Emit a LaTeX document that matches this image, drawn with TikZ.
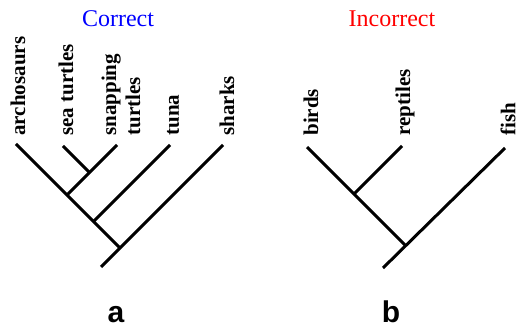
\documentclass[tikz,border=0pt]{standalone}
\usepackage{fontspec}
\setmainfont{Liberation Serif}
\newfontfamily\panelfont{Liberation Sans}
\usetikzlibrary{calc}

\tikzset{
  branch/.style={line width=1.5pt},
  taxon/.style={rotate=90, anchor=west, inner sep=0pt, align=left,
    font=\bfseries\fontsize{10.5}{12}\selectfont},
  heading/.style={anchor=base, inner sep=0pt, font=\fontsize{12}{14}\selectfont},
  panel/.style={anchor=base, inner sep=0pt, font=\panelfont\bfseries\fontsize{15}{18}\selectfont}
}

\begin{document}
\begin{tikzpicture}[x=0.5pt, y=0.5pt]
  \useasboundingbox (0,0) rectangle (520,327);
  % Left tree: correct
  \begin{scope}
    \coordinate (arch) at (16,183);
    \coordinate (sea) at (63,181);
    \coordinate (snap) at (117,182);
    \coordinate (tuna) at (170,182);
    \coordinate (shark) at (223,182);
    \coordinate (jTurt) at (89.5,154.5);
    \coordinate (jRept) at (67,132);
    \coordinate (jBony) at (93.5,105.5);
    \coordinate (jAll) at (120,79);
    \coordinate (rootA) at (101,60);
    \draw[branch] (arch) -- (jAll);
    \draw[branch] (shark) -- (rootA);
    \draw[branch] (sea) -- (jTurt);
    \draw[branch] (snap) -- (jRept);
    \draw[branch] (tuna) -- (jBony);
    \node[taxon] (lArch) at ([shift={(2,8)}]arch) {archosaurs};
    \node[taxon] (lSea) at ([shift={(3,10)}]sea) {sea turtles};
    \node[taxon] (lSnap) at ([shift={(4,9)}]snap) {snapping\\turtles};
    \node[taxon] (lTuna) at ([shift={(3,9)}]tuna) {tuna};
    \node[taxon] (lShark) at ([shift={(4,9)}]shark) {sharks};
    \node[heading, text=blue] (hCor) at (118,300) {Correct};
    \node[panel] (pa) at (116,4) {a};
  \end{scope}
  % Right tree: incorrect
  \begin{scope}
    \coordinate (bird) at (307,180);
    \coordinate (rept) at (402,181);
    \coordinate (fish) at (505,179);
    \coordinate (jLand) at (354,133);
    \coordinate (jTop) at (405,82);
    \coordinate (rootB) at (383,59);
    \draw[branch] (bird) -- (jTop);
    \draw[branch] (fish) -- (rootB);
    \draw[branch] (rept) -- (jLand);
    \node[taxon] (lBird) at ([shift={(4,11)}]bird) {birds};
    \node[taxon] (lRept) at ([shift={(3,10)}]rept) {reptiles};
    \node[taxon] (lFish) at ([shift={(3,12)}]fish) {fish};
    \node[heading, text=red] (hInc) at (392,300) {Incorrect};
    \node[panel] (pb) at (391,4) {b};
  \end{scope}
\end{tikzpicture}
\end{document}
